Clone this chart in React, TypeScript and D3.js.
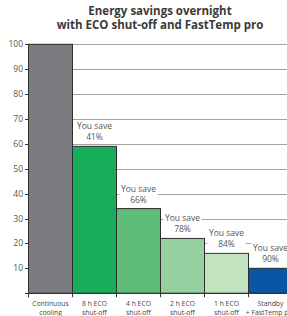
import { useEffect, useRef } from 'react';
import * as d3 from 'd3';

// chart values
const categories = ['cont', 'eco8', 'eco4', 'eco2', 'eco1', 'standby'];
const categoryLines = [
  ['Continuous', 'cooling'],
  ['8 h ECO', 'shut-off'],
  ['4 h ECO', 'shut-off'],
  ['2 h ECO', 'shut-off'],
  ['1 h ECO', 'shut-off'],
  ['Standby', '+ FastTemp pro'],
];
const energy = [100, 59, 34, 22, 16, 10];
const savings = ['', '41%', '66%', '78%', '84%', '90%'];
const yTicks = [10, 20, 30, 40, 50, 60, 70, 80, 90, 100];
const barColors = ['#7b7c80', '#17ad5a', '#5cbc78', '#97d0a0', '#c1e3c0', '#0a56a5'];

const FONT = '"Open Sans", "Noto Sans", sans-serif';

export default function App() {
  const ref = useRef<SVGSVGElement>(null);

  useEffect(() => {
    const width = 287;
    const height = 316;
    const svg = d3.select(ref.current);
    svg.selectAll('*').remove();

    const x = d3.scaleBand<string>().domain(categories).range([28.5, 292.5]).padding(0);
    const y = d3.scaleLinear().domain([0, 100]).range([293.2, 44.3]);

    svg.append('rect').attr('width', width).attr('height', height).attr('fill', '#fff');

    // title
    const title = svg
      .append('text')
      .attr('text-anchor', 'middle')
      .attr('font-family', FONT)
      .attr('font-weight', 'bold')
      .attr('font-size', 11.5)
      .attr('fill', '#3a3a3a');
    title.append('tspan').attr('x', 160).attr('y', 15).text('Energy savings overnight');
    title.append('tspan').attr('x', 160).attr('y', 29).text('with ECO shut-off and FastTemp pro');

    // gridlines
    svg
      .append('g')
      .selectAll('line')
      .data(yTicks)
      .join('line')
      .attr('x1', x.range()[0])
      .attr('x2', width)
      .attr('y1', (d) => Math.round(y(d)) + 0.5)
      .attr('y2', (d) => Math.round(y(d)) + 0.5)
      .attr('stroke', '#a3a3a3')
      .attr('stroke-width', 1.2);

    // bars
    svg
      .append('g')
      .selectAll('rect')
      .data(energy)
      .join('rect')
      .attr('x', (_, i) => x(categories[i])!)
      .attr('y', (d) => y(d))
      .attr('width', x.bandwidth())
      .attr('height', (d) => y(0) - y(d))
      .attr('fill', (_, i) => barColors[i])
      .attr('stroke', '#2e2e2e')
      .attr('stroke-width', 1);

    // "You save" labels with white backing that hides the gridlines
    const labels = svg.append('g').attr('font-family', FONT).attr('font-size', 8.5).attr('fill', '#555');
    energy.forEach((v, i) => {
      if (!savings[i]) return;
      const cx = x(categories[i])! + x.bandwidth() / 2;
      const top = y(v);
      const g = labels.append('g');
      const bg = g.append('rect').attr('fill', '#fff');
      const t = g.append('text').attr('text-anchor', 'middle');
      t.append('tspan').attr('x', cx).attr('y', top - 17).text('You save');
      t.append('tspan').attr('x', cx).attr('y', top - 6).text(savings[i]);
      const b = (t.node() as SVGTextElement).getBBox();
      bg.attr('x', b.x - 1.5)
        .attr('y', b.y)
        .attr('width', b.width + 3)
        .attr('height', b.height);
    });

    // y axis
    const yAxis = svg.append('g').attr('font-family', FONT).attr('font-size', 8.5);
    yAxis
      .append('line')
      .attr('x1', 28.5)
      .attr('x2', 28.5)
      .attr('y1', y(100))
      .attr('y2', y(0) + 4)
      .attr('stroke', '#333');
    yAxis
      .selectAll('line.tick')
      .data(yTicks)
      .join('line')
      .attr('class', 'tick')
      .attr('x1', 25)
      .attr('x2', 28.5)
      .attr('y1', (d) => Math.round(y(d)) + 0.5)
      .attr('y2', (d) => Math.round(y(d)) + 0.5)
      .attr('stroke', '#333');
    yAxis
      .selectAll('text')
      .data(yTicks)
      .join('text')
      .attr('x', 23)
      .attr('y', (d) => y(d) + 3)
      .attr('text-anchor', 'end')
      .attr('fill', '#555')
      .text((d) => d);

    // x axis
    const xAxis = svg.append('g').attr('font-family', FONT).attr('font-size', 6.8).attr('fill', '#444');
    xAxis
      .append('line')
      .attr('x1', 25)
      .attr('x2', width)
      .attr('y1', Math.round(y(0)) + 0.5)
      .attr('y2', Math.round(y(0)) + 0.5)
      .attr('stroke', '#333')
      .attr('stroke-width', 1.2);
    const bounds = categories.map((c) => x(c)!).concat([x.range()[1]]);
    xAxis
      .selectAll('line.tick')
      .data(bounds)
      .join('line')
      .attr('class', 'tick')
      .attr('x1', (d) => d)
      .attr('x2', (d) => d)
      .attr('y1', y(0))
      .attr('y2', y(0) + 4)
      .attr('stroke', '#333');
    categoryLines.forEach((lines, i) => {
      const cx = x(categories[i])! + x.bandwidth() / 2;
      const t = xAxis.append('text').attr('text-anchor', 'middle');
      lines.forEach((s, j) => {
        t.append('tspan').attr('x', cx).attr('y', 306 + j * 8.6).text(s);
      });
    });
  }, []);

  return (
    <svg
      ref={ref}
      width={287}
      height={316}
      style={{ position: 'absolute', left: 0, top: 0, display: 'block' }}
    />
  );
}
